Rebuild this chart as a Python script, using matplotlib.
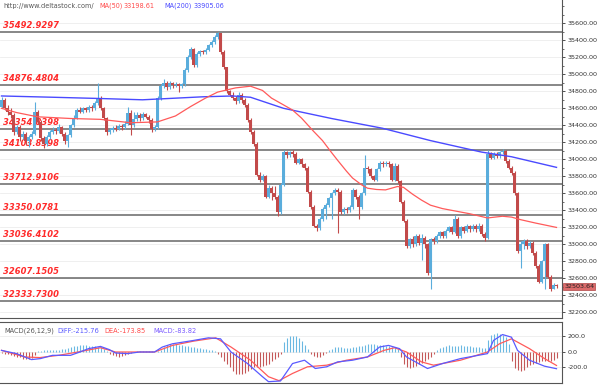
import numpy as np
import matplotlib.pyplot as plt

# ---- price candles, open = previous close ----
open_first = 34620
close = [34700, 34600, 34560, 34520, 34320, 34380, 34260, 34300, 34220, 34260,
         34300, 34560, 34440, 34250, 34180, 34260, 34320, 34350, 34330, 34380,
         34300, 34220, 34280, 34400, 34490, 34580, 34560, 34600, 34580, 34620,
         34600, 34660, 34720, 34600, 34480, 34320, 34340, 34370, 34360, 34390,
         34380, 34420, 34550, 34400, 34470, 34520, 34480, 34530, 34500, 34460,
         34360, 34380, 34720, 34860, 34900, 34850, 34900, 34870, 34890, 34860,
         34880, 35050, 35200, 35300, 35110, 35240, 35270, 35260, 35290, 35340,
         35380, 35440, 35480, 35260, 35080, 34800, 34760, 34720, 34680, 34760,
         34700, 34640, 34460, 34320, 34180, 33820, 33760, 33800, 33560, 33660,
         33600, 33560, 33380, 33700, 34080, 34050, 34080, 34060, 33960, 34000,
         33940, 33900, 33620, 33440, 33220, 33190, 33300, 33420, 33460, 33540,
         33600, 33640, 33620, 33380, 33420, 33400, 33440, 33640, 33560, 33440,
         33600, 33900, 33880, 33800, 33760, 33880, 33960, 33940, 33960, 33940,
         33760, 33920, 33740, 33500, 33280, 32980, 33060, 33000, 33100, 33020,
         33080, 33000, 32660, 33060, 33040, 33100, 33140, 33100, 33160, 33200,
         33150, 33300, 33100, 33200, 33160, 33210, 33180, 33220, 33180, 33220,
         33120, 33080, 34060, 34020, 34060, 34040, 34080, 34100, 33980, 33900,
         33840, 33600, 32920, 33000, 33040, 32980, 33020, 32900, 32750, 32560,
         32800, 33000, 32620, 32480, 32520, 32503.64]
high = [34730, 34720, 34640, 34600, 34540, 34400, 34400, 34330, 34320, 34290,
        34330, 34670, 34580, 34460, 34270, 34280, 34340, 34380, 34370, 34420,
        34390, 34320, 34300, 34420, 34520, 34600, 34610, 34620, 34620, 34640,
        34640, 34680, 34900, 34740, 34620, 34500, 34370, 34390, 34400, 34410,
        34410, 34450, 34620, 34580, 34560, 34560, 34540, 34560, 34550, 34520,
        34480, 34400, 34740, 34880, 34950, 34920, 34920, 34910, 34910, 34900,
        34900, 35070, 35230, 35320, 35310, 35260, 35290, 35290, 35310, 35360,
        35400, 35460, 35500, 35490, 35280, 35090, 34820, 34790, 34740, 34790,
        34780, 34720, 34660, 34480, 34340, 34200, 33850, 33830, 33820, 33700,
        33690, 33680, 33580, 33720, 34110, 34100, 34100, 34110, 34080, 34020,
        34020, 33960, 33920, 33640, 33460, 33240, 33320, 33440, 33480, 33560,
        33620, 33660, 33660, 33640, 33440, 33440, 33460, 33660, 33650, 33580,
        33620, 34050, 33920, 33900, 33820, 33900, 33980, 33980, 33980, 33980,
        33960, 33960, 33940, 33760, 33520, 33300, 33080, 33100, 33120, 33120,
        33120, 33100, 33020, 33080, 33090, 33120, 33160, 33160, 33180, 33220,
        33220, 33350, 33320, 33220, 33220, 33240, 33230, 33240, 33240, 33250,
        33240, 33140, 34110, 34080, 34080, 34080, 34100, 34120, 34110, 34000,
        33920, 33860, 33620, 33040, 33060, 33060, 33040, 33040, 32920, 32770,
        32820, 33020, 33020, 32640, 32540, 32530]
low = [34600, 34580, 34520, 34480, 34290, 34300, 34220, 34240, 34170, 34140,
       34240, 34280, 34420, 34220, 34130, 34160, 34240, 34300, 34300, 34310,
       34270, 34180, 34140, 34260, 34380, 34470, 34540, 34540, 34560, 34560,
       34570, 34580, 34640, 34580, 34460, 34290, 34300, 34320, 34330, 34340,
       34350, 34360, 34400, 34290, 34380, 34450, 34450, 34460, 34480, 34430,
       34320, 34330, 34360, 34700, 34840, 34820, 34830, 34840, 34850, 34790,
       34840, 34860, 35030, 35180, 35080, 35090, 35220, 35240, 35240, 35270,
       35320, 35360, 35420, 35240, 35060, 34780, 34740, 34700, 34650, 34660,
       34660, 34620, 34440, 34300, 34160, 33800, 33730, 33740, 33540, 33540,
       33520, 33530, 33330, 33360, 33680, 34020, 34030, 34030, 33940, 33940,
       33910, 33870, 33600, 33420, 33200, 33160, 33170, 33280, 33300, 33440,
       33300, 33580, 33130, 33360, 33360, 33370, 33380, 33420, 33530, 33300,
       33420, 33580, 33840, 33780, 33740, 33740, 33860, 33910, 33920, 33910,
       33740, 33740, 33720, 33480, 33260, 32960, 32960, 32970, 32980, 32990,
       32820, 32960, 32640, 32480, 33000, 33020, 33080, 33070, 33080, 33140,
       33120, 33130, 33080, 33080, 33130, 33140, 33150, 33160, 33150, 33160,
       33100, 33040, 33060, 34000, 34000, 34010, 34020, 34060, 33960, 33880,
       33820, 33580, 32900, 32720, 32940, 32950, 32960, 32880, 32720, 32540,
       32540, 32480, 32600, 32450, 32470, 32490]

# moving averages (bar index, value)
ma50_idx = [0, 5, 12, 23, 33, 43, 52, 58, 63, 68, 72, 78, 83, 87, 90, 94, 97, 100,
            104, 107, 110, 112, 115, 117, 120, 122, 125, 128, 132, 134, 137, 140,
            143, 147, 150, 156, 162, 167, 170, 173, 178, 185]
ma50_val = [34600, 34550, 34500, 34480, 34470, 34430, 34440, 34510, 34620, 34720,
            34790, 34840, 34860, 34810, 34720, 34640, 34580, 34485, 34330, 34220,
            34080, 33990, 33860, 33780, 33700, 33660, 33645, 33640, 33680, 33670,
            33590, 33520, 33460, 33420, 33400, 33360, 33310, 33330, 33320, 33290,
            33250, 33198.61]
ma200_idx = [0, 17, 33, 47, 67, 77, 83, 94, 110, 127, 143, 160, 170, 185]
ma200_val = [34745, 34730, 34715, 34700, 34735, 34745, 34730, 34600, 34480, 34365,
             34220, 34085, 34030, 33905.06]

# horizontal levels
levels = [35492.9297, 34876.4804, 34354.8398, 34103.8398, 33712.9106,
          33350.0781, 33036.4102, 32607.1505, 32333.7300]
level_labels = ["35492.9297", "34876.4804", "34354.8398", "34103.8398", "33712.9106",
                "33350.0781", "33036.4102", "32607.1505", "32333.7300"]

# MACD(26,12,9)
diff_idx = [0, 5, 10, 13, 17, 23, 25.5, 29, 33, 36, 38, 42, 46, 51, 53.6, 57, 64, 69,
            73, 76.5, 82, 87, 89, 93, 97, 101, 104.6, 108.4, 112, 117, 122, 126, 129,
            132.7, 135, 139, 142, 147, 153, 162, 164, 167, 170, 172, 176, 181, 185]
diff_val = [21, -21, -98, -85, -43, -43, -9, 43, 72, 30, -13, -21, 0, 0, 64, 106, 149, 183,
            170, 0, -149, -319, -383, -374, -149, -106, -213, -191, -128, -106, -64, 64, 85,
            43, -64, -149, -213, -149, -85, -21, 149, 225, 191, 21, -106, -183, -215.76]
dea_idx = [0, 7.7, 12.8, 19, 25.5, 33, 38, 46, 51, 57, 64, 71.4, 76.5, 83, 89, 92.5, 97,
           102, 108.4, 115, 122, 127.5, 131, 135, 140, 144, 153, 162, 166, 170, 176, 181, 185]
dea_val = [21, -64, -72, -43, 0, 55, 0, 0, 0, 85, 140, 183, 64, -106, -319, -370, -277,
           -191, -170, -106, -64, 21, 55, 0, -128, -170, -106, 0, 106, 170, 43, -85, -173.85]
hist = [-10, -20, -30, -40, -50, -60, -70, -85, -95, -95, -80, -40,
        10, 15, 20, 20, 25, 20, 25, 30, 35,
        45, 55, 65, 75, 80, 85, 85, 85, 80, 80, 75, 70, 60, 40, 15,
        -20, -40, -55, -60, -55, -40, -20,
        -10, 5, 10, 10, 15, 10, 15, 10, 5, 10, 20,
        60, 90, 100, 105, 100, 95, 85, 80, 75, 65, 60, 55, 50, 45, 40, 30, 25, 15,
        -20, -60, -110, -150, -200, -250, -280, -290, -285, -270, -250, -220, -200, -200,
        -190, -180, -170, -150, -120, -90, -60, -30,
        130, 175, 200, 210, 200, 180, 140, 90, 40,
        -30, -55, -65, -60, -40, -15,
        20, 45, 60, 65, 60, 55, 50, 55, 60, 70, 75, 80, 90, 100, 105, 100, 95, 90, 85, 80,
        75, 70, 60, 40,
        -60, -150, -190, -205, -200, -180, -160, -140, -120, -90, -60, -30,
        20, 50, 70, 80, 85, 80, 75, 80, 85, 80, 75, 75, 70, 65, 60, 55, 50,
        150, 220, 235, 240, 230, 220, 190, 100,
        -120, -210, -235, -240, -230, -200, -170, -150, -140, -130, -120, -110, -115, -110,
        -100, -83.82]

price_ticks = np.arange(32200, 35601, 200)
macd_ticks = [-200, 0, 200]

UP = "#5aaddc"
DOWN = "#c24a4a"

c = np.array(close)
o = np.concatenate([[open_first], c[:-1]])
h = np.array(high)
l = np.array(low)
idx = np.arange(len(c))
up = c >= o

fig = plt.figure(figsize=(6, 3.9), dpi=100)
W, H = 600.0, 390.0
ax = fig.add_axes([0, 1 - 318 / H, 562 / W, 318 / H])
ax2 = fig.add_axes([0, 1 - 383 / H, 562 / W, 61 / H])

# ---- main panel ----
ax.set_xlim(-0.5, 186.83)
ax.set_ylim(32133, 35874)
for t in price_ticks:
    ax.axhline(t, color="#ededed", lw=0.6, zorder=0)
for lv, txt in zip(levels, level_labels):
    ax.axhline(lv, color="#676767", lw=1.1, zorder=1)
    ax.annotate(txt, xy=(0, lv), xycoords=("axes fraction", "data"),
                xytext=(2, 1.5), textcoords="offset points", va="bottom", ha="left",
                color="#ff2a2a", fontsize=6, fontweight="bold", style="italic", zorder=2)

cols = np.where(up, UP, DOWN)
ax.vlines(idx, l, h, colors=cols, lw=0.8, zorder=3)
body_lo = np.minimum(o, c)
body_h = np.maximum(np.abs(c - o), 8)
ax.bar(idx, body_h, bottom=body_lo, width=0.68, color=cols, lw=0, zorder=3)

ax.plot(ma200_idx, ma200_val, color="#4a4aff", lw=1.0, zorder=4)
ax.plot(ma50_idx, ma50_val, color="#ff5a5a", lw=0.9, zorder=4)

ax.set_xticks([])
ax.yaxis.tick_right()
ax.set_yticks(price_ticks)
ax.set_yticklabels(["%.2f" % t for t in price_ticks])
ax.set_yticks(np.arange(32200, 35801, 100), minor=True)
ax.tick_params(axis="y", which="major", labelsize=4.6, colors="#333333",
               length=2.5, width=0.6, pad=1.5)
ax.tick_params(axis="y", which="minor", length=1.5, width=0.5, colors="#333333")
for s in ["left", "top"]:
    ax.spines[s].set_visible(False)
for s in ["right", "bottom"]:
    ax.spines[s].set_color("#555555")
    ax.spines[s].set_linewidth(0.8)

ax.annotate("%.2f" % close[-1], xy=(1, close[-1]), xycoords=("axes fraction", "data"),
            xytext=(1.5, 0), textcoords="offset points", va="center", ha="left",
            fontsize=4.6, color="#222222", annotation_clip=False, zorder=6,
            bbox=dict(boxstyle="square,pad=0.15", fc="#dc6c6c", ec="#b04444", lw=0.5))

# header
fig.text(3 / W, 1 - 6 / H, "http://www.deltastock.com/", fontsize=4.7, color="#555555", va="center")
fig.text(99 / W, 1 - 6 / H, "MA(50)", fontsize=4.7, color="#ff4a4a", va="center")
fig.text(124 / W, 1 - 6 / H, "33198.61", fontsize=4.7, color="#ff4a4a", va="center")
fig.text(164 / W, 1 - 6 / H, "MA(200)", fontsize=4.7, color="#4a4aff", va="center")
fig.text(194 / W, 1 - 6 / H, "33905.06", fontsize=4.7, color="#4a4aff", va="center")

# ---- MACD panel ----
ax2.set_xlim(-0.5, 186.83)
ax2.set_ylim(-400, 387)
for t in macd_ticks:
    ax2.axhline(t, color="#ededed", lw=0.6, zorder=0)
hcols = np.where(np.array(hist) >= 0, "#6ab8e2", "#c45858")
ax2.vlines(idx, 0, hist, colors=hcols, lw=0.8, zorder=2)
ax2.plot(dea_idx, dea_val, color="#ff5a5a", lw=0.9, zorder=3)
ax2.plot(diff_idx, diff_val, color="#5a5aff", lw=0.9, zorder=3)
ax2.set_xticks([])
ax2.yaxis.tick_right()
ax2.set_yticks(macd_ticks)
ax2.set_yticklabels(["%.1f" % t for t in macd_ticks])
ax2.tick_params(axis="y", labelsize=4.6, colors="#333333", length=2.5, width=0.6, pad=1.5)
ax2.spines["left"].set_visible(False)
for s in ["right", "bottom", "top"]:
    ax2.spines[s].set_color("#555555")
    ax2.spines[s].set_linewidth(0.8)

fig.text(4 / W, 1 - 331 / H, "MACD(26,12,9)", fontsize=4.8, color="#555555", va="center")
fig.text(57 / W, 1 - 331 / H, "DIFF:-215.76", fontsize=4.8, color="#5a5aff", va="center")
fig.text(104 / W, 1 - 331 / H, "DEA:-173.85", fontsize=4.8, color="#ff4a4a", va="center")
fig.text(153 / W, 1 - 331 / H, "MACD:-83.82", fontsize=4.8, color="#7a5aff", va="center")

fig.savefig("out.png", dpi=100)
